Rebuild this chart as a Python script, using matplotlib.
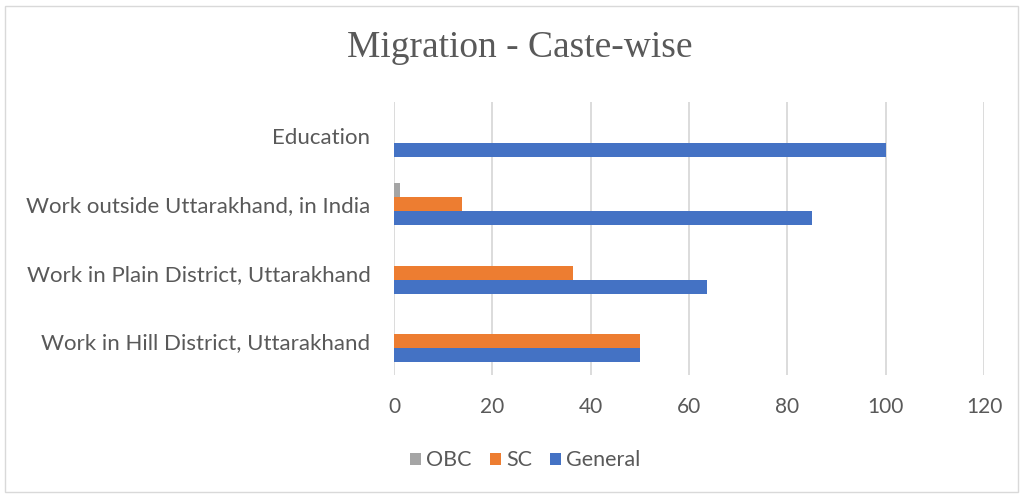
import matplotlib.pyplot as plt
import numpy as np
from matplotlib.patches import Rectangle

# Migration reasons, bottom to top as drawn
categories = [
    "Work in Hill District, Uttarakhand",
    "Work in Plain District, Uttarakhand",
    "Work outside Uttarakhand, in India",
    "Education",
]
obc = [0, 0, 1.2, 0]
sc = [50, 36.4, 13.8, 0]
general = [50, 63.6, 85, 100]

series = [("OBC", obc, "#A5A5A5"), ("SC", sc, "#ED7D31"), ("General", general, "#4472C4")]
x_ticks = [0, 20, 40, 60, 80, 100, 120]

GREY = "#595959"
GRID = "#D9D9D9"
LABEL_FONT = ["Lato", "DejaVu Sans"]

fig = plt.figure(figsize=(10.24, 4.95), dpi=100)
fig.patches.append(Rectangle((0.005, 0.006), 0.989, 0.982, transform=fig.transFigure,
                             fill=False, edgecolor=GRID, lw=1.0))

ax = fig.add_axes([394 / 1024, 1 - 375 / 495, 590 / 1024, 273 / 495])

y = np.arange(len(categories))
h = 0.205
# OBC on top, General at the bottom of each group
offsets = [h, 0, -h]
for (name, vals, color), off in zip(series, offsets):
    ax.barh(y + off, vals, height=h, color=color, label=name, zorder=3)

ax.set_xlim(0, 120)
ax.set_ylim(-0.5, len(categories) - 0.5)
ax.set_xticks(x_ticks)
ax.set_yticks(y)
ax.set_yticklabels(categories)
ax.xaxis.grid(True, color=GRID, lw=1.3, zorder=0)
ax.tick_params(axis="x", length=0, labelcolor=GREY, labelsize=15, pad=16)
ax.tick_params(axis="y", length=0, labelcolor=GREY, labelsize=16, pad=17)
for lab in ax.get_xticklabels() + ax.get_yticklabels():
    lab.set_family(LABEL_FONT)
for s in ax.spines.values():
    s.set_visible(False)

fig.text(0.508, 0.903, "Migration - Caste-wise", ha="center", va="center",
         fontsize=27, color=GREY, family=["Liberation Serif", "DejaVu Serif"])

leg = fig.legend(loc="center", bbox_to_anchor=(0.513, 0.07), ncol=3, frameon=False,
                 handlelength=0.5, handleheight=0.5, handletextpad=0.25, columnspacing=0.85,
                 prop={"family": LABEL_FONT, "size": 15.5})
for t in leg.get_texts():
    t.set_color(GREY)

fig.savefig("out.png", dpi=100, facecolor="white")
